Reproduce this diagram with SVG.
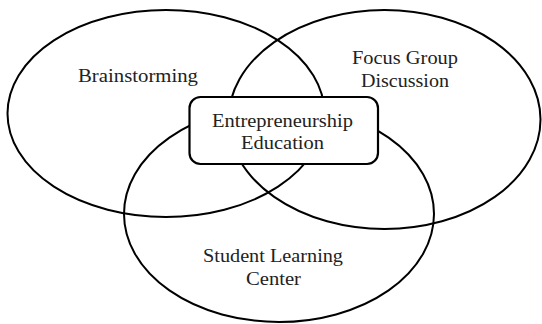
<svg xmlns="http://www.w3.org/2000/svg" width="542" height="324" viewBox="0 0 542 324">
<style>
.ring{fill:none;stroke:#000;stroke-width:2}
.box{fill:#fff;stroke:#000;stroke-width:2.2}
.t{font-family:"Liberation Serif","Times New Roman",serif;font-size:19px;fill:#222;text-anchor:middle}
</style>
<rect width="542" height="324" fill="#fff"/>
<g id="brainstorming">
<ellipse class="ring" cx="166" cy="113.5" rx="158.5" ry="103.5"/>
<text class="t" x="138" y="82" textLength="120" lengthAdjust="spacingAndGlyphs">Brainstorming</text>
</g>
<g id="focus-group">
<ellipse class="ring" cx="384.5" cy="119.5" rx="156" ry="109.5"/>
<text class="t" x="405" y="64" textLength="106" lengthAdjust="spacingAndGlyphs">Focus Group</text>
<text class="t" x="405" y="87" textLength="88" lengthAdjust="spacingAndGlyphs">Discussion</text>
</g>
<g id="student-learning">
<ellipse class="ring" cx="279" cy="214" rx="155" ry="108"/>
<text class="t" x="273" y="262" textLength="140" lengthAdjust="spacingAndGlyphs">Student Learning</text>
<text class="t" x="273.5" y="285" textLength="55" lengthAdjust="spacingAndGlyphs">Center</text>
</g>
<g id="entrepreneurship">
<rect class="box" x="189.5" y="97" width="188.5" height="67" rx="11"/>
<text class="t" x="282.5" y="127" textLength="141" lengthAdjust="spacingAndGlyphs">Entrepreneurship</text>
<text class="t" x="282.5" y="149" textLength="83" lengthAdjust="spacingAndGlyphs">Education</text>
</g>
<g id="connectors"></g>
</svg>
